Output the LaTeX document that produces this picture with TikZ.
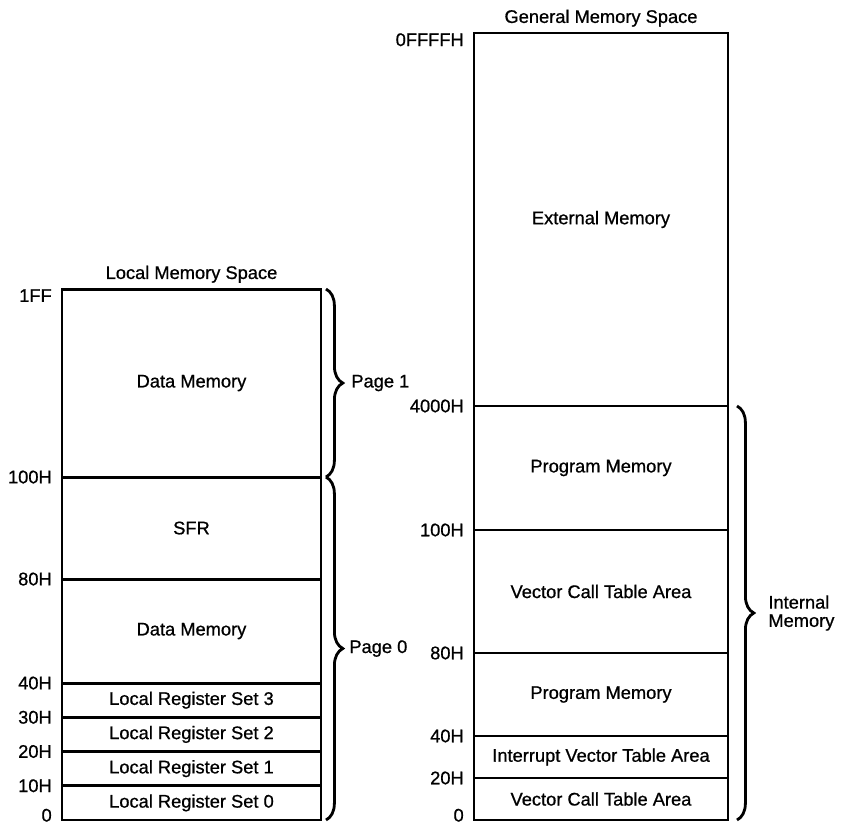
\documentclass[tikz,border=0pt]{standalone}
\usepackage{fontspec}
\setmainfont{Liberation Sans}[BoldFont={Liberation Sans}, BoldFeatures={FakeBold=0.8}]
\usetikzlibrary{positioning, decorations.pathreplacing}
\tikzset{
    cell/.style={
        draw,
        line width=2.1pt,
        inner sep=0pt,
        outer sep=0pt,
        align=center
    },
    lcell/.style={cell, minimum width=6.475cm},
    gcell/.style={cell, minimum width=6.35cm},
    addr/.style={anchor=east, xshift=-0.25cm},
    topaddr/.style={anchor=north east, xshift=-0.25cm},
    botaddr/.style={anchor=south east, xshift=-0.25cm, yshift=-0.05cm},
    pagebrace/.style={decorate, decoration={brace, amplitude=0.42cm}, line width=2pt},
    note/.style={align=left},
    every node/.style={font=\fontsize{13}{13}\selectfont\bfseries, inner sep=0pt}
}
\begin{document}
\begin{tikzpicture}[node distance=0pt]
\useasboundingbox (0,0) rectangle (21.2,-20.65);

\node[lcell, minimum height=0.856cm, anchor=south] (lreg0) at (4.7875,-20.5) {Local Register Set 0};
\node[lcell, minimum height=0.856cm, above=of lreg0] (lreg1) {Local Register Set 1};
\node[lcell, minimum height=0.856cm, above=of lreg1] (lreg2) {Local Register Set 2};
\node[lcell, minimum height=0.856cm, above=of lreg2] (lreg3) {Local Register Set 3};
\node[lcell, minimum height=2.6cm, above=of lreg3] (ldata0) {Data Memory};
\node[lcell, minimum height=2.55cm, above=of ldata0] (lsfr) {SFR};
\node[lcell, minimum height=4.7cm, above=of lsfr] (ldata1) {Data Memory};
\node[above=0.15cm of ldata1] (ltitle) {Local Memory Space};

\node[botaddr] (la0) at (lreg0.south west) {0};
\node[addr] (la10) at (lreg1.south west) {10H};
\node[addr] (la20) at (lreg2.south west) {20H};
\node[addr] (la30) at (lreg3.south west) {30H};
\node[addr] (la40) at (ldata0.south west) {40H};
\node[addr] (la80) at (lsfr.south west) {80H};
\node[addr] (la100) at (ldata1.south west) {100H};
\node[topaddr] (la1ff) at (ldata1.north west) {1FF};

\draw[pagebrace] ([xshift=0.125cm]ldata1.north east) -- ([xshift=0.125cm]ldata1.south east)
    node[midway, right=0.6cm] (page1) {Page 1};
\draw[pagebrace] ([xshift=0.125cm]ldata1.south east) -- ([xshift=0.125cm]lreg0.south east)
    node[midway, right=0.55cm] (page0) {Page 0};

\node[gcell, minimum height=1.05cm, anchor=south] (gvct0) at (15.025,-20.5) {Vector Call Table Area};
\node[gcell, minimum height=1.05cm, above=of gvct0] (givt) {Interrupt Vector Table Area};
\node[gcell, minimum height=2.075cm, above=of givt] (gprog0) {Program Memory};
\node[gcell, minimum height=3.075cm, above=of gprog0] (gvct1) {Vector Call Table Area};
\node[gcell, minimum height=3.1cm, above=of gvct1] (gprog1) {Program Memory};
\node[gcell, minimum height=9.325cm, above=of gprog1] (gext) {External Memory};
\node[above=0.15cm of gext] (gtitle) {General Memory Space};

\node[botaddr] (ga0) at (gvct0.south west) {0};
\node[addr] (ga20) at (givt.south west) {20H};
\node[addr] (ga40) at (gprog0.south west) {40H};
\node[addr] (ga80) at (gvct1.south west) {80H};
\node[addr] (ga100) at (gprog1.south west) {100H};
\node[addr] (ga4000) at (gext.south west) {4000H};
\node[topaddr] (gaffff) at (gext.north west) {0FFFFH};

\draw[pagebrace] ([xshift=0.225cm]gext.south east) -- ([xshift=0.225cm]gvct0.south east)
    node[midway, right=0.75cm, note] (internal) {Internal\\Memory};
\end{tikzpicture}
\end{document}
